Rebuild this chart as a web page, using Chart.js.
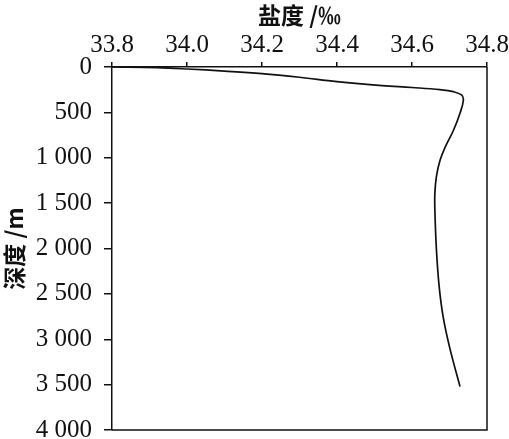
<!DOCTYPE html>
<html><head><meta charset="utf-8">
<script src="https://cdn.jsdelivr.net/npm/chart.js@4/dist/chart.umd.min.js"></script>
<style>html,body{margin:0;padding:0;background:#fff}#wrap{width:509px;height:439px;position:relative}</style>
</head><body><div id="wrap"><canvas id="c"></canvas></div>
<script>
const depth = [0, 8, 22, 45, 73, 113, 161, 205, 226, 250, 272, 308, 364, 510, 694, 878, 1025, 1208, 1392, 1576, 2000, 2400, 2750, 3100, 3520];
const salinity = [33.80, 33.92, 34.00, 34.10, 34.20, 34.30, 34.40, 34.52, 34.60, 34.675, 34.71, 34.732, 34.737, 34.728, 34.711, 34.689, 34.675, 34.665, 34.661, 34.661, 34.665, 34.672, 34.683, 34.701, 34.728];
const xTickValues = [33.8, 34.0, 34.2, 34.4, 34.6, 34.8];
const xTickLabels = ['33.8', '34.0', '34.2', '34.4', '34.6', '34.8'];
const yTickValues = [0, 500, 1000, 1500, 2000, 2500, 3000, 3500, 4000];
const yTickLabels = ['0', '500', '1 000', '1 500', '2 000', '2 500', '3 000', '3 500', '4 000'];
const xTitle = '盐度 /‰';
const yTitle = '深度 /m';

const ink = '#111111';
const fontFam = '"Liberation Serif", "Times New Roman", "Noto Sans CJK SC", serif';
const titleFam = '"Noto Sans CJK SC", "Liberation Serif", sans-serif';
const points = depth.map((d, i) => ({ x: salinity[i], y: d }));

const frame = {
  id: 'frame',
  afterDraw(chart) {
    const { ctx, chartArea: a } = chart;
    ctx.save();
    ctx.strokeStyle = ink;
    ctx.lineWidth = 1.5;
    ctx.beginPath();
    ctx.moveTo(a.right, a.top);
    ctx.lineTo(a.right, a.bottom);
    ctx.lineTo(a.left, a.bottom);
    ctx.stroke();
    ctx.restore();
  }
};

new Chart(document.getElementById('c'), {
  type: 'line',
  data: { datasets: [{ data: points, borderColor: ink, borderWidth: 1.7, pointRadius: 0, fill: false, tension: 0.4 }] },
  options: {
    responsive: true, maintainAspectRatio: false, animation: false,
    indexAxis: 'y',
    layout: { padding: { left: 0, top: 0, right: 22, bottom: 9 } },
    plugins: { legend: { display: false }, tooltip: { enabled: false } },
    scales: {
      x: {
        type: 'linear', position: 'top', min: 33.8, max: 34.8,
        afterBuildTicks: s => { s.ticks = xTickValues.map(v => ({ value: v })); },
        afterFit: s => { s.height = 67; s.paddingLeft = 0; s.paddingRight = 0; },
        ticks: { autoSkip: false, maxRotation: 0, color: ink, font: { family: fontFam, size: 25 }, padding: 2,
          callback: v => xTickLabels[xTickValues.findIndex(t => Math.abs(t - v) < 1e-6)] },
        grid: { drawOnChartArea: false, drawTicks: true, tickLength: 5, color: ink, lineWidth: 1.5 },
        border: { display: true, color: ink, width: 1.5 },
        title: { display: true, text: xTitle, color: ink, font: { family: titleFam, size: 23, weight: 'bold' }, padding: { top: 1, bottom: 0 } }
      },
      y: {
        type: 'linear', position: 'left', reverse: true, min: 0, max: 4000,
        afterBuildTicks: s => { s.ticks = yTickValues.map(v => ({ value: v })); },
        afterFit: s => { s.width = 112; s.paddingTop = 0; s.paddingBottom = 0; },
        ticks: { autoSkip: false, color: ink, font: { family: fontFam, size: 25 }, padding: 12,
          callback: v => yTickLabels[yTickValues.indexOf(v)] },
        grid: { drawOnChartArea: false, drawTicks: true, tickLength: 8, color: ink, lineWidth: 1.5 },
        border: { display: true, color: ink, width: 1.5 },
        title: { display: true, text: yTitle, color: ink, font: { family: titleFam, size: 23, weight: 'bold' }, padding: { top: 0, bottom: 0 } }
      }
    }
  },
  plugins: [frame]
});
</script></body></html>
